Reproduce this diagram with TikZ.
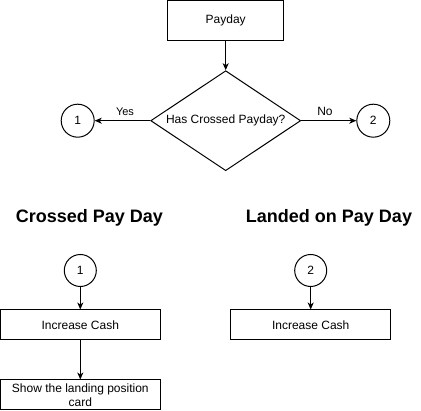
\documentclass[tikz,border=0pt]{standalone}
\usepackage{fontspec}
\setmainfont{Liberation Sans}
\usetikzlibrary{arrows.meta,shapes.geometric}
\begin{document}
\begin{tikzpicture}[x=1pt,y=-1pt,
  line width=1pt,
  box/.style={draw, rectangle, inner sep=0pt, minimum width=160pt, minimum height=30pt, font=\fontsize{12}{14}\selectfont, align=center},
  conn/.style={draw, circle, inner sep=0pt, minimum size=33pt, font=\fontsize{12}{14}\selectfont},
  decision/.style={draw, diamond, aspect=1.5, inner sep=0pt, minimum width=150pt, minimum height=100pt, font=\fontsize{12}{14}\selectfont},
  title/.style={font=\fontsize{18}{20}\bfseries\selectfont, inner sep=0pt},
  lbl/.style={inner sep=0pt},
  arr/.style={-{Stealth[length=7pt,width=6pt,inset=2pt]}, line width=1pt}]
\useasboundingbox (0,0) rectangle (421,411);
\fill[white] (0,0) rectangle (421,411);
% top part
\node[draw, rectangle, inner sep=0pt, minimum width=116pt, minimum height=40pt, font=\fontsize{12}{14}\selectfont] (payday) at (225.7,20.5) {Payday};
\node[decision] (dec) at (225.7,120.7) {Has Crossed Payday?};
\node[conn] (c1) at (77.7,120.7) {1};
\node[conn] (c2) at (373.3,120.7) {2};
\draw[arr] (payday.south) -- (dec.north);
\draw[arr] (dec.west) -- (c1.east);
\draw[arr] (dec.east) -- (c2.west);
\node[lbl, font=\fontsize{11}{13}\selectfont] (yes) at (125,112) {Yes};
\node[lbl, font=\fontsize{12}{14}\selectfont] (no) at (325,111.5) {No};
% titles
\node[title] (t1) at (89.5,217.5) {Crossed Pay Day};
\node[title] (t2) at (329,217.5) {Landed on Pay Day};
% left column
\node[conn, minimum size=32pt] (l1) at (80.3,270.5) {1};
\node[box] (inc1) at (80.3,325) {Increase Cash};
\node[box, font=\fontsize{12}{13.5}\selectfont] (show) at (80.3,395) {Show the landing position\\card};
\draw[arr] (l1.south) -- (inc1.north);
\draw[arr] (inc1.south) -- (show.north);
% right column
\node[conn, minimum size=32pt] (r2) at (310.7,270.5) {2};
\node[box] (inc2) at (310.7,325) {Increase Cash};
\draw[arr] (r2.south) -- (inc2.north);
\end{tikzpicture}
\end{document}
